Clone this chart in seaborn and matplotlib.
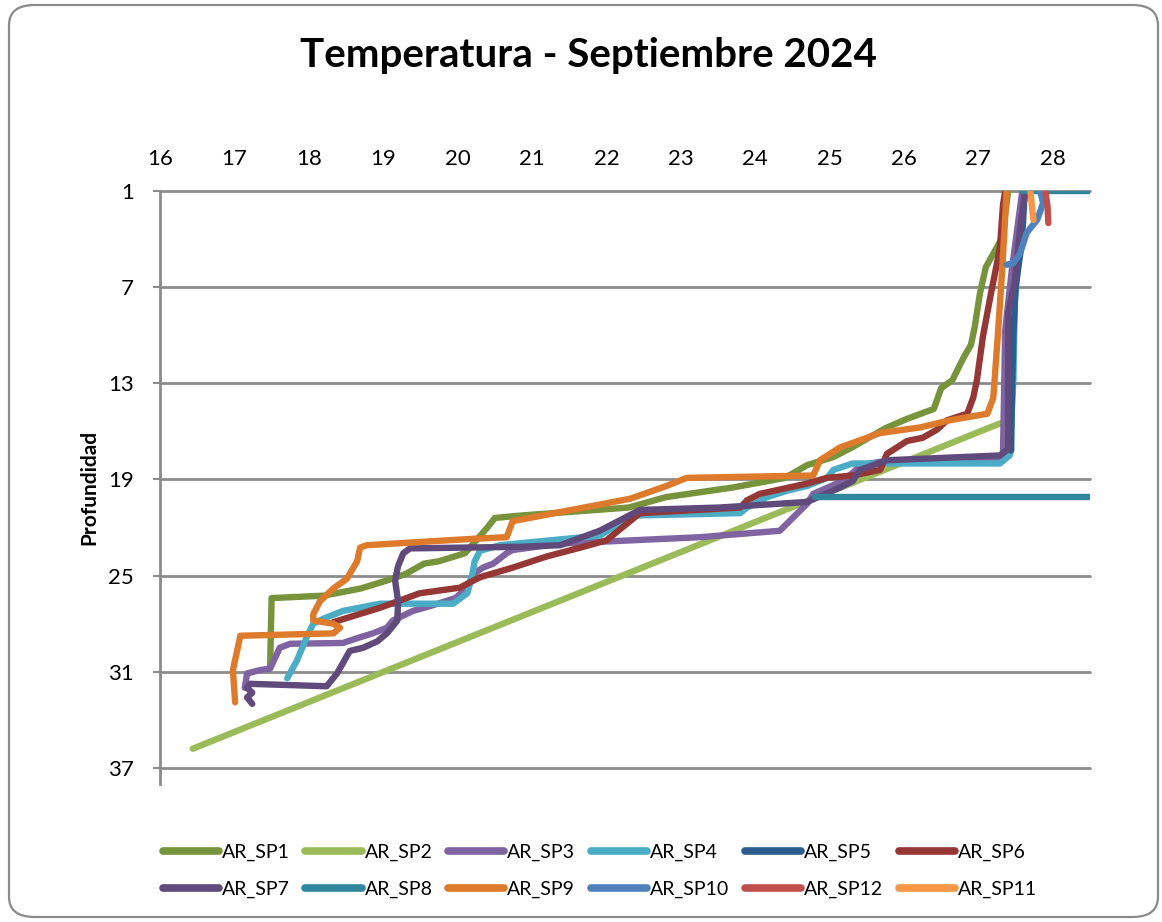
import numpy as np
import pandas as pd
import matplotlib
matplotlib.use("Agg")
import matplotlib.pyplot as plt
from matplotlib.patches import FancyBboxPatch
import seaborn as sns

# Temperature (°C) against depth for each sampling point, September 2024
sp1_temp = [17.48, 17.5, 18.2, 18.7, 19.05, 19.3, 19.55, 19.75, 20.1, 20.25, 20.4, 20.5,
            20.85, 22.3, 22.8, 23.7, 24.4, 24.7, 25.05, 25.3, 25.75, 26.05, 26.4, 26.5,
            26.65, 26.8, 26.9, 26.95, 27.02, 27.1, 27.25, 27.32, 27.4]
sp1_depth = [30.75, 26.4, 26.25, 25.8, 25.3, 24.9, 24.25, 24.1, 23.6, 22.8, 22.0, 21.4,
             21.25, 20.75, 20.1, 19.5, 18.9, 18.1, 17.6, 17.0, 15.8, 15.2, 14.6, 13.3,
             12.8, 11.4, 10.6, 9.5, 7.4, 5.75, 4.5, 3.9, 1.0]

sp2_temp = [16.44, 27.29]
sp2_depth = [35.8, 15.5]

sp3_temp = [17.14, 17.17, 17.34, 17.48, 17.61, 17.75, 18.46, 18.65, 18.86, 19.05, 19.13,
            19.4, 19.63, 19.97, 20.13, 20.21, 20.34, 20.48, 20.66, 20.74, 21.38, 22.32,
            23.26, 24.33, 24.7, 24.78, 25.1, 25.31, 25.41, 25.68, 27.22, 27.33, 27.36,
            27.45, 27.53, 27.59]
sp3_depth = [32.0, 31.1, 30.9, 30.8, 29.5, 29.25, 29.2, 28.9, 28.6, 28.25, 27.8,
             27.2, 26.9, 26.4, 25.75, 24.9, 24.5, 24.25, 23.6, 23.4, 23.0, 22.8,
             22.6, 22.2, 20.5, 19.9, 19.25, 18.6, 18.1, 17.9, 17.9, 17.5, 9.7,
             5.9, 3.1, 1.0]

sp4_temp = [17.71, 17.84, 17.98, 18.06, 18.19, 18.46, 18.96, 19.94, 20.13, 20.19, 20.23,
            20.3, 20.57, 21.24, 21.91, 22.36, 23.8, 23.89, 24.16, 24.43, 24.7, 24.97,
            25.05, 25.31, 27.29, 27.42, 27.47, 27.49, 27.56, 27.63]
sp4_depth = [31.4, 30.3, 28.75, 28.0, 27.7, 27.2, 26.75, 26.75, 26.1, 25.1, 24.1,
             23.45, 23.1, 22.8, 22.5, 21.25, 21.1, 20.75, 20.1, 19.7, 19.4, 18.9,
             18.4, 18.0, 18.0, 17.5, 12.8, 7.8, 4.1, 1.0]

sp5_temp = [27.62, 27.6, 27.56, 27.5, 27.47, 27.45, 27.44]
sp5_depth = [1.0, 3.0, 5.0, 7.0, 10.0, 14.0, 17.2]

sp6_temp = [27.36, 27.33, 27.29, 27.25, 27.16, 27.06, 26.98, 26.93, 26.85, 26.58, 26.44,
            26.25, 26.04, 25.77, 25.68, 25.31, 24.96, 24.7, 24.06, 23.89, 23.8, 22.45,
            22.0, 21.65, 21.2, 20.74, 20.3, 20.03, 19.49, 18.96, 18.33]
sp6_depth = [1.0, 1.9, 4.5, 5.5, 7.6, 10.1, 12.8, 13.9, 14.9, 15.3, 15.9,
             16.4, 16.6, 17.4, 18.4, 18.75, 18.9, 19.25, 19.9, 20.3, 20.75, 21.1,
             22.8, 23.25, 23.8, 24.5, 25.1, 25.75, 26.1, 27.0, 27.9]

sp7_temp = [17.24, 17.17, 17.24, 17.17, 17.21, 18.24, 18.38, 18.55, 18.73, 18.92, 19.05,
            19.19, 19.2, 19.16, 19.2, 19.27, 19.36, 20.84, 21.38, 21.91, 22.45, 23.52,
            24.7, 25.14, 25.31, 25.41, 25.77, 27.29, 27.4, 27.4, 27.49, 27.56, 27.63]
sp7_depth = [33.0, 32.6, 32.3, 32.0, 31.75, 31.9, 31.1, 29.7, 29.5, 29.1, 28.6,
             27.8, 26.6, 25.3, 24.4, 23.6, 23.3, 23.2, 23.1, 22.2, 20.9, 20.75,
             20.4, 19.5, 19.1, 18.4, 17.8, 17.5, 17.1, 8.6, 6.6, 3.4, 1.0]

sp8_temp = [27.6, 29.5, 29.5, 24.8]
sp8_depth = [1.0, 1.0, 20.1, 20.1]

sp9_temp = [17.01, 16.98, 17.08, 18.33, 18.42, 18.33, 18.06, 18.06, 18.15, 18.33, 18.51,
            18.65, 18.69, 18.78, 20.21, 20.66, 20.74, 22.32, 22.81, 23.08, 24.78, 24.87,
            25.14, 25.68, 26.22, 26.62, 27.12, 27.2, 27.26, 27.32, 27.38]
sp9_depth = [32.9, 30.9, 28.75, 28.6, 28.25, 28.0, 27.8, 27.4, 26.6, 25.8, 25.2,
             24.1, 23.25, 23.1, 22.7, 22.6, 21.6, 20.2, 19.4, 18.9, 18.75, 17.8,
             17.0, 16.1, 15.75, 15.3, 14.9, 13.9, 10.1, 5.9, 1.0]

sp10_temp = [27.83, 27.87, 27.79, 27.65, 27.56, 27.47, 27.38]
sp10_depth = [1.0, 1.75, 2.8, 3.6, 4.9, 5.5, 5.6]

sp12_temp = [27.9, 27.93, 27.94]
sp12_depth = [1.0, 2.0, 3.0]

sp11_temp = [27.7, 27.72, 27.74]
sp11_depth = [1.0, 2.0, 2.8]

series_names = ["AR_SP1", "AR_SP2", "AR_SP3", "AR_SP4", "AR_SP5", "AR_SP6",
                "AR_SP7", "AR_SP8", "AR_SP9", "AR_SP10", "AR_SP12", "AR_SP11"]
series_temp = [sp1_temp, sp2_temp, sp3_temp, sp4_temp, sp5_temp, sp6_temp,
               sp7_temp, sp8_temp, sp9_temp, sp10_temp, sp12_temp, sp11_temp]
series_depth = [sp1_depth, sp2_depth, sp3_depth, sp4_depth, sp5_depth, sp6_depth,
                sp7_depth, sp8_depth, sp9_depth, sp10_depth, sp12_depth, sp11_depth]

colors = ["#77933C", "#9BBB59", "#8064A2", "#4BACC6", "#2C5D8F", "#953735",
          "#604A7B", "#31859C", "#DD7A2C", "#4F81BD", "#C0504D", "#F79646"]

x_ticks = list(range(16, 29))
y_ticks = list(range(1, 38, 6))

frames = []
for name, t, d in zip(series_names, series_temp, series_depth):
    frames.append(pd.DataFrame({"Temperatura": t, "Profundidad": d,
                                "serie": name, "orden": np.arange(len(t))}))
df = pd.concat(frames, ignore_index=True)

sns.set_theme(style="white")
plt.rcParams["font.family"] = ["Lato", "DejaVu Sans"]
plt.rcParams["text.color"] = "black"
plt.rcParams["axes.labelcolor"] = "black"

fig = plt.figure(figsize=(11.62, 9.22), dpi=100)
fig.patch.set_facecolor("white")
ax = fig.add_axes([160 / 1162, 1 - 784 / 922, (1090 - 160) / 1162, (784 - 191) / 922])

grid_color = "#8C8C8C"
for yt in y_ticks:
    ax.axhline(yt, color=grid_color, lw=2.0, zorder=0, clip_on=False)

sns.lineplot(data=df, x="Temperatura", y="Profundidad", hue="serie",
             hue_order=series_names, palette=colors, sort=False,
             estimator=None, units="serie", linewidth=4.6, ax=ax,
             solid_capstyle="round", solid_joinstyle="round")

ax.set_xlim(16, 28.5)
ax.set_ylim(38, 1)
ax.xaxis.tick_top()
ax.set_xticks(x_ticks)
ax.set_yticks(y_ticks)
ax.tick_params(axis="x", length=0, pad=16, labelsize=16, labelcolor="black")
ax.tick_params(axis="y", length=5, width=1.5, color=grid_color, pad=14,
               labelsize=16, labelcolor="black", left=True)
for side in ["top", "right", "bottom"]:
    ax.spines[side].set_visible(False)
ax.spines["left"].set_color(grid_color)
ax.spines["left"].set_linewidth(2.0)
ax.set_xlabel("")
ax.set_ylabel("Profundidad", fontsize=15, fontweight="bold", labelpad=6,
              color="black")

handles, labels = ax.get_legend_handles_labels()
ax.get_legend().remove()
# the legend fills column by column; interleave so the rows read SP1..SP6 / SP7..SP11
order = []
for c in range(6):
    order += [c, c + 6]
leg = fig.legend([handles[i] for i in order], [labels[i] for i in order],
                 ncol=6, loc="center", bbox_to_anchor=(600 / 1162, 1 - 871 / 922),
                 frameon=False, fontsize=14, handlelength=2.9, handletextpad=0.15,
                 columnspacing=0.8, labelspacing=1.05)
for line in leg.get_lines():
    line.set_linewidth(5.5)
    line.set_solid_capstyle("round")
for txt in leg.get_texts():
    txt.set_color("black")

fig.text(588 / 1162, 1 - 55 / 922, "Temperatura - Septiembre 2024",
         ha="center", va="center", fontsize=29, fontweight="bold", color="black")

border = FancyBboxPatch((9 / 1162, 5 / 922), 1149 / 1162, 912 / 922,
                        boxstyle="round,pad=0,rounding_size=0.022",
                        transform=fig.transFigure, facecolor="none",
                        edgecolor="#8A8A8A", linewidth=1.6)
fig.patches.append(border)

fig.savefig("out.png", dpi=100, facecolor="white")
